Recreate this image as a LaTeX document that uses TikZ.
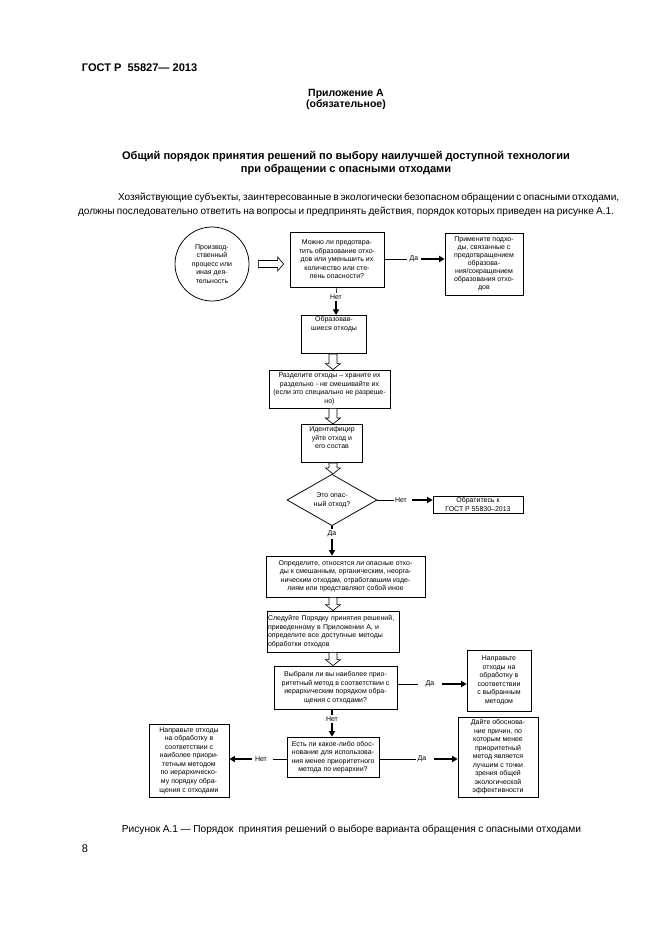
\documentclass[tikz,border=0pt]{standalone}
\usepackage{fontspec}
\setmainfont{Liberation Sans}
\usetikzlibrary{shapes.geometric}
\usetikzlibrary{arrows.meta}
\usetikzlibrary{calc}
\usetikzlibrary{positioning}
\newlength{\px}
\setlength{\px}{0.3177mm}

\begin{document}
\begin{tikzpicture}[
        x=0.3177mm, y=-0.3177mm,
        every node/.style={font=\fontsize{6.3}{7.7}\selectfont},
        box/.style={draw, line width=0.7pt, align=center, inner sep=1pt},
        lbl/.style={inner xsep=2pt, inner ysep=1.5pt},
        heavy/.style={line width=1.6pt, -{Triangle[length=5pt,width=5.5pt]}},
        hollow/.style={line width=0.6pt, fill=white}
    ]
        \fill[white] (0,0) rectangle (661,936);
        \useasboundingbox (0,0) rectangle (661,936);

        % ось широких стрелок
        \coordinate (col) at (333,0);
        \def\hollowdown#1#2{
            \draw[hollow] ($(col |- #1.south)+(-4,0)$) -- ($(col |- #2.north)+(-4,-6)$)
                -- ($(col |- #2.north)+(-7.5,-6)$) -- (col |- #2.north)
                -- ($(col |- #2.north)+(7.5,-6)$) -- ($(col |- #2.north)+(4,-6)$)
                -- ($(col |- #1.south)+(4,0)$) -- cycle;
        }

        % шапка страницы
        \node[anchor=west, font=\bfseries\fontsize{10}{12}\selectfont] (hdr) at (78,68) {ГОСТ Р\ \ 55827— 2013};
        \node[align=center, font=\bfseries\fontsize{9.5}{10.5}\selectfont] (app) at (346,99.5) {Приложение А\\(обязательное)};
        \node[align=center, font=\bfseries\fontsize{10}{12.2}\selectfont] (ttl) at (346,163) {Общий порядок принятия решений по выбору наилучшей доступной технологии\\при обращении с опасными отходами};
        \node[align=right, inner sep=0, font=\fontsize{9.1}{12.6}\selectfont] (txt) at (346,204.5) {%
            \makebox[496\px][s]{Хозяйствующие субъекты, заинтересованные в экологически безопасном обращении с опасными отходами,}\\
            \makebox[536\px][s]{должны последовательно ответить на вопросы и предпринять действия, порядок которых приведен на рисунке А.1.}};

        % блоки схемы
        \node[draw, circle, line width=0.7pt, align=center, minimum size=74\px, inner sep=0] (src) at (212,264) {Производ-\\ственный\\процесс или\\иная дея-\\тельность};
        \node[box, minimum width=94\px, minimum height=55\px] (q1) at (337,259.5) {Можно ли предотвра-\\тить образование отхо-\\дов или уменьшить их\\количество или сте-\\пень опасности?};
        \node[box, minimum width=78\px, minimum height=62\px, font=\fontsize{6.3}{7.3}\selectfont] (r1) at (484,264) {Примените подхо-\\ды, связанные с\\предотвращением\\образова-\\ния/сокращением\\образования отхо-\\дов};
        \node[box] (b2) at (334,334.5) {\parbox[c][36\px][t]{63\px}{\centering Образовав-\\шиеся отходы}};
        \node[box, minimum width=121\px, minimum height=38\px] (b3) at (329.5,389) {Разделите отходы – храните их\\раздельно - не смешивайте их\\(если это специально не разреше-\\но)};
        \node[box] (b4) at (332,443.5) {\parbox[c][36\px][t]{59\px}{\centering\vspace*{1\px}Идентифицир\\уйте отход и\\его состав}};
        \node[draw, diamond, line width=0.7pt, align=center, inner sep=0, minimum width=90\px, minimum height=46\px] (dia) at (332,500) {Это опас-\\ный отход?};
        \node[box, minimum width=90\px, minimum height=17\px, inner sep=0.5pt] (gost) at (478,504.5) {Обратитесь к\\ГОСТ Р 55830–2013};
        \node[box, minimum width=159\px, minimum height=41\px] (b5) at (345.5,576.5) {Определите, относятся ли опасные отхо-\\ды к смешанным, органическим, неорга-\\ническим отходам, отработавшим изде-\\лиям или представляют собой иное};
        \node[box, align=left, text width=130\px, minimum height=41\px] (b6) at (333,631.5) {Следуйте Порядку принятия решений,\\приведенному в Приложении А, и\\определите все доступные методы\\обработки отходов};
        \node[box, minimum width=123\px, minimum height=43\px] (q3) at (335.5,687.5) {Выбрали ли вы наиболее прио-\\ритетный метод в соответствии с\\иерархическим порядком обра-\\щения с отходами?};
        \node[box, minimum width=64\px, minimum height=61\px] (r3) at (499,680.5) {Направьте\\отходы на\\обработку в\\соответствии\\с выбранным\\методом};
        \node[box, minimum width=92\px, minimum height=40\px] (q4) at (333,757) {Есть ли какое-либо обос-\\нование для использова-\\ния менее приоритетного\\метода по иерархии?};
        \node[box, minimum width=80\px, minimum height=73\px] (l4) at (189,760.5) {Направьте отходы\\на обработку в\\соответствии с\\наиболее приори-\\тетным методом\\по иерархическо-\\му порядку обра-\\щения с отходами};
        \node[box, minimum width=80\px, minimum height=80\px] (r4) at (498,757) {Дайте обоснова-\\ние причин, по\\которым менее\\приоритетный\\метод является\\лучшим с точки\\зрения общей\\экологической\\эффективности};

        % широкие стрелки
        \draw[hollow] ($(src.east)+(9,-3.5)$) -- ($(q1.west |- src.east)+(-12,-3.5)$)
            -- ($(q1.west |- src.east)+(-12,-7)$) -- ($(q1.west |- src.east)+(-6,0)$)
            -- ($(q1.west |- src.east)+(-12,7)$) -- ($(q1.west |- src.east)+(-12,3.5)$)
            -- ($(src.east)+(9,3.5)$) -- cycle;
        \hollowdown{b2}{b3}
        \hollowdown{b3}{b4}
        \hollowdown{b4}{dia}
        \hollowdown{b5}{b6}
        \hollowdown{b6}{q3}

        % ответы Да / Нет
        \node[lbl] (y1) at (414,259) {Да};
        \draw[line width=0.6pt] (q1.east |- y1) -- (y1);
        \draw[heavy] (y1) -- (y1 -| r1.west);

        \node[lbl] (n1) at (336,297) {Нет};
        \draw[line width=0.6pt] (q1.south |- n1) ++(0,-10) -- (n1);
        \draw[heavy] (n1) -- (n1 |- b2.north);

        \node[lbl, inner xsep=1pt] (n2) at (401,500) {Нет};
        \draw[line width=0.6pt] (dia.east) -- (n2);
        \draw[heavy] (n2.east) ++(4,0) -- (n2.east -| gost.west);

        \node[lbl] (y2) at (332,534) {Да};
        \draw[line width=1.6pt] (dia.south) -- (y2);
        \draw[heavy] (y2) -- (y2 |- b5.north);

        \node[lbl, inner xsep=7pt] (y3) at (430,684) {Да};
        \draw[line width=0.6pt] (q3.east |- y3) -- (y3);
        \draw[heavy] (y3) -- (y3 -| r3.west);

        \node[lbl] (n3) at (332,719) {Нет};
        \draw[line width=1.6pt] (q3.south -| n3) -- (n3);
        \draw[heavy] (n3) -- (n3 |- q4.north);

        \node[lbl, inner xsep=3pt] (n4) at (261,759) {Нет};
        \draw[line width=0.6pt] (q4.west |- n4) -- ($(n4.east)+(3,0)$);
        \draw[heavy] (n4) -- (n4 -| l4.east);

        \node[lbl, inner xsep=1pt] (y4) at (422,759) {Да};
        \draw[line width=0.6pt] (q4.east |- y4) -- (y4);
        \draw[heavy] ($(y4.east)+(6,0)$) -- (y4 -| r4.west);

        % подпись
        \node[anchor=west, font=\fontsize{9.2}{11}\selectfont] (cap) at (118,830) {\makebox[459\px][s]{Рисунок А.1 — Порядок\ \ принятия решений о выборе варианта обращения с опасными отходами}};
        \node[anchor=west, font=\fontsize{10}{12}\selectfont] (pg) at (78,849) {8};
\end{tikzpicture}
\end{document}
